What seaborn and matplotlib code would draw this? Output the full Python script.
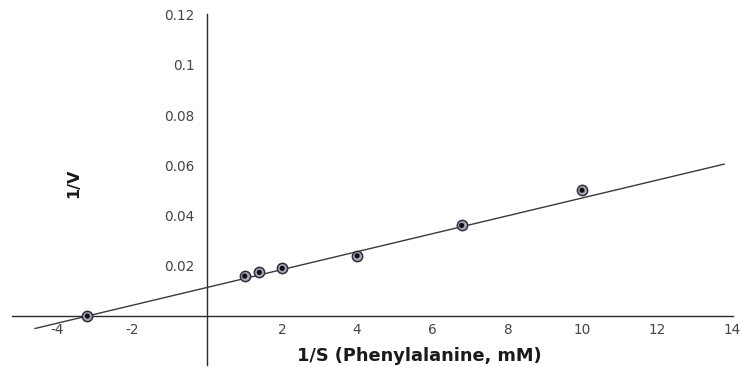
import numpy as np
import pandas as pd
import matplotlib
matplotlib.use("Agg")
import matplotlib.pyplot as plt
import seaborn as sns

# Lineweaver-Burk data: reciprocal substrate concentration vs reciprocal velocity
inv_s = [-3.2, 1.0, 1.39, 2.0, 4.0, 6.79, 10.0]
inv_v = [0.0, 0.0159, 0.0174, 0.019, 0.024, 0.0361, 0.0501]

# Fitted line (y = intercept + slope * x) and the x-range it is drawn over
fit_intercept = 0.0114
fit_slope = 0.00356
fit_x = [-4.6, 13.8]

x_ticks = [-4, -2, 2, 4, 6, 8, 10, 12, 14]
x_tick_labels = ["-4", "-2", "2", "4", "6", "8", "10", "12", "14"]
y_ticks = [0.02, 0.04, 0.06, 0.08, 0.1, 0.12]
y_tick_labels = ["0.02", "0.04", "0.06", "0.08", "0.1", "0.12"]

sns.set_theme(style="white")
plt.rcParams["font.family"] = ["DejaVu Sans"]

fig = plt.figure(figsize=(7.41, 3.67), dpi=100)
ax = fig.add_axes([12 / 741, 2 / 367, (733 - 12) / 741, (365 - 14) / 367])

line_df = pd.DataFrame({
    "x": fit_x,
    "y": [fit_intercept + fit_slope * v for v in fit_x],
})
sns.lineplot(data=line_df, x="x", y="y", ax=ax, color="#3a3a3a", linewidth=1.0, zorder=3)

pts = pd.DataFrame({"x": inv_s, "y": inv_v})
sns.scatterplot(data=pts, x="x", y="y", ax=ax, s=55, marker="o",
                color="#a8a8bc", edgecolor="#2e2e3e", linewidth=1.1, zorder=4)
sns.scatterplot(data=pts, x="x", y="y", ax=ax, s=14, marker="o",
                color="#111111", edgecolor="none", zorder=5)

ax.set_xlim(-5.21, 14.03)
ax.set_ylim(-0.0195, 0.1203)

for side in ("top", "right"):
    ax.spines[side].set_visible(False)
for side in ("left", "bottom"):
    ax.spines[side].set_position("zero")
    ax.spines[side].set_color("#2a2a2a")
    ax.spines[side].set_linewidth(1.0)

ax.set_xticks(x_ticks)
ax.set_xticklabels(x_tick_labels)
ax.set_yticks(y_ticks)
ax.set_yticklabels(y_tick_labels)
ax.tick_params(axis="both", length=0, labelsize=9.8, labelcolor="#444444")
ax.tick_params(axis="x", pad=5)
ax.tick_params(axis="y", pad=9)
ax.set_xlabel("")
ax.set_ylabel("")

fig.text(419 / 741, 1 - 356 / 367, "1/S (Phenylalanine, mM)", ha="center", va="center",
         fontsize=12.8, fontweight="bold", color="#1a1a1a")
fig.text(74 / 741, 1 - 183 / 367, "1/V", ha="center", va="center", rotation=90,
         fontsize=11.5, fontweight="bold", color="#1a1a1a")

fig.savefig("out.png", dpi=100)
